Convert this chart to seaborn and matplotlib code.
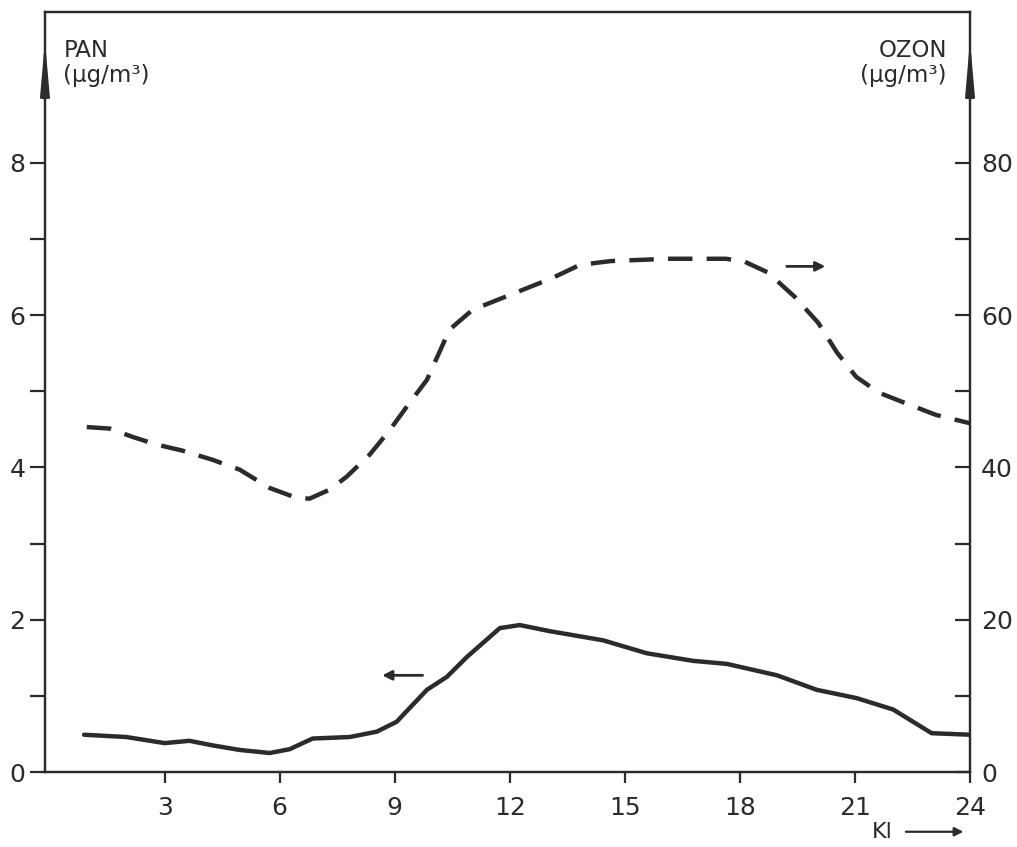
import matplotlib
matplotlib.use("Agg")
import matplotlib.pyplot as plt
import seaborn as sns
import pandas as pd

# ---- data ----
pan_hours = [0.9, 2.0, 3.0, 3.65, 4.25, 4.96, 5.74, 6.26, 6.86, 7.83, 8.53, 9.05,
             9.84, 10.36, 10.88, 11.74, 12.26, 13.04, 14.43, 15.57, 16.78, 17.66,
             18.97, 20.0, 21.05, 22.0, 23.0, 24.0]
pan_values = [0.49, 0.46, 0.38, 0.41, 0.35, 0.29, 0.25, 0.30, 0.44, 0.46, 0.53, 0.66,
              1.08, 1.25, 1.51, 1.89, 1.93, 1.85, 1.73, 1.56, 1.46, 1.42,
              1.27, 1.08, 0.97, 0.82, 0.51, 0.49]

ozon_hours = [0.97, 1.57, 2.17, 2.79, 3.47, 4.25, 4.96, 5.74, 6.44, 6.78, 7.31, 7.75,
              8.35, 8.87, 9.39, 9.84, 10.43, 11.03, 12.13, 13.12, 13.83, 14.64,
              16.13, 17.64, 18.13, 18.73, 19.43, 20.04, 20.53, 21.03, 21.63, 22.44,
              23.11, 24.0]
ozon_values = [45.3, 45.1, 44.0, 43.0, 42.2, 41.0, 39.7, 37.3, 36.0, 35.9, 37.1, 38.8,
               41.7, 44.9, 48.5, 51.5, 58.1, 60.7, 62.9, 64.9, 66.6, 67.1,
               67.4, 67.4, 67.0, 65.6, 62.4, 59.0, 55.1, 51.9, 49.8, 48.2,
               46.9, 45.8]

x_ticks = [3, 6, 9, 12, 15, 18, 21, 24]
pan_ticks = [0, 1, 2, 3, 4, 5, 6, 7, 8]
pan_labels = ["0", "", "2", "", "4", "", "6", "", "8"]
ozon_ticks = [0, 10, 20, 30, 40, 50, 60, 70, 80]
ozon_labels = ["0", "", "20", "", "40", "", "60", "", "80"]

sns.set_theme(style="white")
plt.rcParams["font.family"] = ["DejaVu Sans"]

ink = "#2b2b2b"
fig = plt.figure(figsize=(10.17, 8.47), dpi=100)
ax = fig.add_axes([0.0442, 0.0885, 0.9096, 0.8973])
ax2 = ax.twinx()

pan_df = pd.DataFrame({"hour": pan_hours, "pan": pan_values})
oz_df = pd.DataFrame({"hour": ozon_hours, "ozon": ozon_values})

sns.lineplot(data=pan_df, x="hour", y="pan", ax=ax, color=ink, lw=3.2, sort=False)
sns.lineplot(data=oz_df, x="hour", y="ozon", ax=ax2, color=ink, lw=3.2, sort=False,
             dashes=False)
ax2.lines[0].set_linestyle((0, (5.5, 3.2)))

ax.set_xlim(-0.12, 24)
ax.set_ylim(0, 9.98)
ax2.set_ylim(0, 99.8)

ax.set_xticks(x_ticks)
ax.set_xticklabels([str(t) for t in x_ticks])
ax.set_yticks(pan_ticks)
ax.set_yticklabels(pan_labels)
ax2.set_yticks(ozon_ticks)
ax2.set_yticklabels(ozon_labels)

ax.set_xlabel("")
ax.set_ylabel("")
ax2.set_ylabel("")

for a in (ax, ax2):
    for s in a.spines.values():
        s.set_color(ink)
        s.set_linewidth(1.6)
    a.grid(False)

ax.tick_params(axis="x", direction="out", length=8, width=1.6, colors=ink,
               labelsize=18, pad=9, bottom=True)
ax.tick_params(axis="y", direction="out", length=11, width=1.6, colors=ink,
               labelsize=18, pad=3, left=True)
ax2.tick_params(axis="y", direction="in", length=11, width=1.6, colors=ink,
                labelsize=18, pad=8, right=True)

# axis titles
ax.text(0.02, 0.965, "PAN\n(µg/m³)", transform=ax.transAxes, ha="left", va="top",
        fontsize=16.5, color=ink, linespacing=1.15)
ax.text(0.975, 0.965, "OZON\n(µg/m³)", transform=ax.transAxes, ha="right", va="top",
        fontsize=16.5, color=ink, linespacing=1.15)

# arrowheads at top of the vertical axes
head = "-|>,head_length=1.6,head_width=0.14"
ax.annotate("", xy=(0, 0.966), xytext=(0, 0.88), xycoords="axes fraction",
            arrowprops=dict(arrowstyle=head, color=ink, lw=1.6, mutation_scale=20))
ax.annotate("", xy=(1, 0.966), xytext=(1, 0.88), xycoords="axes fraction",
            arrowprops=dict(arrowstyle=head, color=ink, lw=1.6, mutation_scale=20))

# series direction arrows
ax.annotate("", xy=(8.6, 1.27), xytext=(9.8, 1.27), xycoords="data",
            arrowprops=dict(arrowstyle="-|>", color=ink, lw=2, mutation_scale=14))
ax2.annotate("", xy=(20.3, 66.4), xytext=(19.15, 66.4), xycoords="data",
             arrowprops=dict(arrowstyle="-|>", color=ink, lw=2, mutation_scale=14))

# x-axis unit
fig.text(0.868, 0.018, "Kl", fontsize=16, color=ink, ha="center", va="center")
fig.add_artist(matplotlib.patches.FancyArrowPatch(
    (0.888, 0.018), (0.950, 0.018), transform=fig.transFigure,
    arrowstyle="-|>", mutation_scale=13, color=ink, lw=1.6))

fig.savefig("out.png", dpi=100, facecolor="white")
